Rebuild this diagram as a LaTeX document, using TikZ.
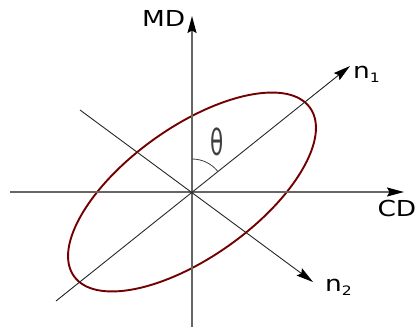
\documentclass[tikz,border=0pt]{standalone}
\usepackage{fontspec}
\usepackage{tikz}
\usetikzlibrary{arrows.meta, positioning, calc}
\newfontfamily\lblfont[FakeStretch=1.2]{DejaVu Sans}
\newfontfamily\thfont{DejaVu Sans}
\newcommand{\lblsub}[1]{\raisebox{-4pt}{\fontsize{13}{13}\selectfont #1}}

\begin{document}
\begin{tikzpicture}[
  x=1pt, y=1pt,
  axis/.style={draw=black!60, line width=1.5pt, -{Stealth[length=17pt,width=9pt,inset=2.5pt,fill=black,color=black]}},
  dir/.style={draw=black!85, line width=0.9pt, -{Stealth[length=17pt,width=9pt,inset=2.5pt,fill=black,color=black]}},
  lbl/.style={font=\lblfont\fontsize{22}{23}\selectfont, inner sep=0pt},
  contour/.style={draw=red!45!black, line width=1.9pt}
]
\useasboundingbox (0,0) rectangle (417,327);
\coordinate (o)     at (192,135);
\coordinate (cdend) at (10,135);
\coordinate (cdtip) at (404,135);
\coordinate (mdend) at (192,0);
\coordinate (mdtip) at (192,311);
\coordinate (n1end) at (56,26);
\coordinate (n1tip) at (350,261);
\coordinate (n2end) at (80,217);
\coordinate (n2tip) at (313,45);

% ellipse
\draw[contour] (o) ellipse[x radius=145, y radius=65, rotate=35.5];

% axes
\draw[axis] (cdend) -- (cdtip);
\draw[axis] (mdend) -- (mdtip);
\draw[dir] (n1end) -- (n1tip);
\draw[dir] (n2end) -- (n2tip);

% angle
\draw[black!75, line width=0.8pt] ($(o)+(90:33)$) arc[start angle=90, end angle=38.6, radius=33];
\node[font=\thfont\fontsize{36}{36}\selectfont, text=black!75, xscale=0.6, inner sep=0pt] (theta) at (217,185) {θ};

% labels
\node[lbl, anchor=base east] (md) at (185.5,300.5) {MD};
\node[lbl, anchor=base east] (cd) at (416.5,111) {CD};
\node[lbl, anchor=base west] (n1) at (353,248) {n\lblsub{1}};
\node[lbl, anchor=base west] (n2) at (325,35.3) {n\lblsub{2}};
\end{tikzpicture}
\end{document}
